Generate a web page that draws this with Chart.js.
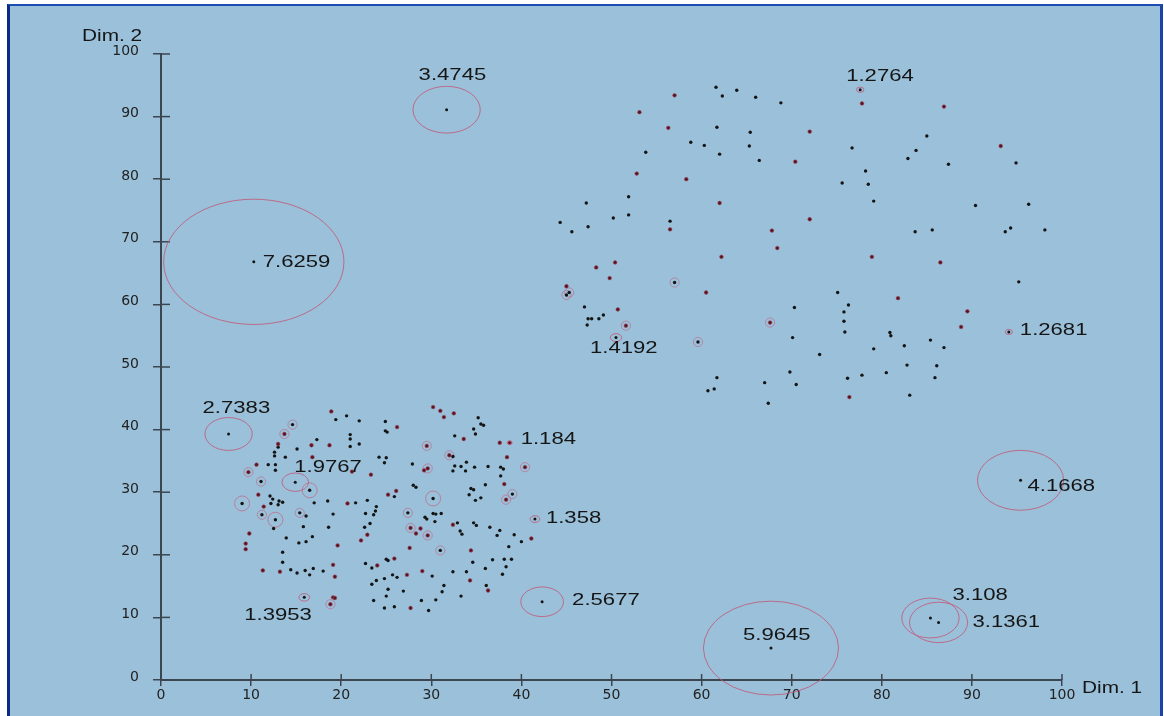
<!DOCTYPE html>
<html>
<head>
<meta charset="utf-8">
<script src="https://cdn.jsdelivr.net/npm/chart.js@4/dist/chart.umd.min.js"></script>
<style>
  body { margin: 0; background: #fff; }
  #frame {
    position: absolute; left: 7px; top: 4px; width: 1150px; height: 720px;
    background: #9bc1da;
    border-top: 2px solid #1d4db3; border-left: 3px solid #0b2a86; border-right: 3px solid #1a43a8;
  }
  #wrap { position: absolute; left: 0; top: 0; width: 1164px; height: 716px; }
</style>
</head>
<body>
<div id="frame"></div>
<div id="wrap"><canvas id="plot" width="1164" height="716"></canvas></div>
<script>
// pontos pretos (Dim. 1, Dim. 2)
const blackPts = [
  [19.4,41.6],[20.6,42.2],[22.0,41.4],[14.6,40.8],[21.0,39.2],[21.0,38.5],[17.3,38.4],[21.0,37.3],[22.0,37.7],
  [13.0,37.2],[15.1,36.9],[12.6,36.4],[12.6,35.8],[13.8,35.6],[11.9,34.4],[12.7,34.4],[12.7,33.5],[11.1,31.7],
  [16.5,30.3],[12.1,29.4],[12.4,28.9],[13.1,28.6],[13.5,28.4],[13.0,28.0],[12.2,28.2],[9.0,28.2],[17.0,28.3],
  [18.5,28.6],[21.6,28.3],[22.9,28.7],[11.2,26.4],[12.7,25.6],[15.4,26.7],[16.1,26.2],[19.1,26.5],[22.7,26.6],
  [12.5,24.2],[15.8,24.5],[18.6,24.4],[23.2,25.0],[22.6,24.4],[13.9,22.7],[16.8,22.9],[16.1,22.1],[15.3,21.9],
  [13.5,20.4],[13.5,18.8],[14.4,17.6],[15.1,17.1],[16.0,17.5],[16.9,17.8],[16.5,16.8],[18.0,17.4],[22.7,18.6],
  [23.4,17.9],[23.4,15.3],[23.6,12.7],
  [35.2,41.9],[35.5,40.9],[35.8,40.7],[34.7,40.1],[34.9,39.3],[24.9,41.3],[24.9,39.8],[25.1,39.6],[32.6,39.0],
  [32.4,35.7],[24.2,35.6],[25.0,35.5],[24.8,34.7],[27.9,34.5],[33.9,34.8],[32.6,34.2],[33.3,34.1],[34.8,34.0],
  [36.3,34.1],[37.7,34.0],[38.0,33.7],[32.4,33.4],[33.8,33.4],[37.7,32.6],[28.0,31.1],[28.3,30.8],[36.0,31.2],
  [25.9,29.3],[34.4,30.6],[34.7,30.4],[34.2,29.6],[30.2,29.0],[34.9,28.7],[35.5,29.1],[39.0,29.7],[23.9,27.7],
  [23.8,27.0],[23.6,26.4],[27.4,26.7],[29.3,26.0],[29.5,25.7],[30.2,26.6],[30.5,26.5],[31.1,26.6],[30.4,25.3],
  [32.9,25.1],[34.7,25.1],[35.0,24.7],[33.2,23.8],[33.4,23.3],[36.5,24.4],[37.6,23.9],[37.3,23.1],[39.2,23.2],
  [40.0,22.1],[31.0,20.7],[38.6,21.3],[25.0,19.3],[25.2,19.1],[34.6,18.8],[36.8,19.2],[38.1,19.3],[38.9,19.3],
  [38.3,18.1],[36.0,17.8],[32.4,17.3],[33.9,17.3],[30.1,16.6],[26.2,16.4],[25.7,16.8],[24.8,16.2],[23.9,15.9],
  [37.9,16.9],[31.4,15.1],[36.1,15.1],[25.2,14.5],[26.9,14.2],[31.2,14.1],[25.0,13.4],[28.9,12.7],[30.5,12.8],
  [33.3,13.4],[24.8,11.5],[25.9,11.7],[29.7,11.1],
  [61.6,94.7],[63.9,94.2],[62.3,93.3],[66.0,93.1],[68.8,92.2],[61.7,88.3],[65.4,87.5],[58.8,85.9],[60.3,85.4],
  [65.3,85.3],[62.0,84.0],[53.8,84.3],[66.4,83.0],[51.9,77.2],[47.2,76.2],[50.2,73.8],[51.9,74.3],[44.3,73.1],
  [45.6,71.6],[47.4,72.4],[56.5,73.3],
  [85.0,86.9],[76.7,85.0],[83.8,84.6],[82.9,83.3],[87.4,82.4],[94.9,82.6],[78.2,81.3],[75.6,79.4],[78.5,79.2],
  [79.1,76.5],[90.4,75.8],[96.3,76.0],[83.7,71.6],[85.6,71.9],[93.7,71.6],[94.3,72.2],[98.1,71.9],
  [45.3,61.9],[45.0,61.5],[57.0,63.5],[47.0,59.6],[47.4,57.7],[47.8,57.7],[48.6,57.7],[49.1,58.3],[47.3,56.7],
  [59.6,54.0],[70.3,59.5],[70.1,54.7],[69.8,49.2],[67.0,47.5],[70.5,47.2],[61.7,48.3],[61.4,46.5],[60.7,46.2],
  [67.4,44.2],
  [95.2,63.6],[75.1,61.9],[76.3,59.9],[75.8,58.8],[75.8,57.3],[75.9,55.6],[80.9,55.5],[81.0,55.0],[85.4,54.3],
  [82.5,53.4],[86.9,53.1],[79.1,52.9],[73.1,52.0],[82.8,50.3],[86.1,50.2],[80.5,49.1],[77.8,48.7],[76.2,48.2],
  [85.9,48.3],[83.1,45.5]
];

// pontos vermelhos
const redPts = [
  [18.9,42.9],[13.7,39.3],[16.7,37.5],[18.7,37.5],[13.0,37.7],[16.8,35.6],[10.6,34.4],[9.7,33.2],[21.2,33.3],
  [23.3,32.8],[10.8,29.6],[11.4,27.7],[20.7,28.2],[9.8,23.4],[22.9,23.2],[22.2,22.3],[19.6,21.5],[9.4,21.8],
  [9.4,20.9],[11.3,17.5],[13.2,17.3],[19.1,18.4],[19.3,16.5],[19.1,13.2],[19.3,13.1],[18.8,12.1],
  [30.2,43.6],[31.0,43.0],[31.4,42.0],[32.5,42.6],[26.2,40.4],[33.6,38.5],[29.5,37.4],[37.6,37.9],[38.7,37.9],
  [38.4,35.6],[32.0,35.9],[40.4,34.0],[29.6,33.8],[29.2,33.5],[38.1,31.3],[26.1,30.2],[25.2,29.6],[38.3,28.8],
  [32.4,24.8],[27.7,24.3],[28.8,24.2],[28.3,23.4],[29.6,23.1],[41.1,22.6],[27.6,21.1],[34.4,20.7],[25.9,19.4],
  [24.0,18.3],[29.0,17.4],[27.3,16.8],[34.3,15.9],[36.3,14.3],[27.7,11.5],
  [57.0,93.4],[53.1,90.7],[56.3,88.2],[70.4,82.8],[52.8,80.9],[58.3,80.0],[62.0,76.2],[56.5,72.0],[67.8,71.8],
  [68.4,69.0],[77.8,92.1],[86.9,91.6],[72.0,87.6],[93.2,85.3],[72.0,73.6],[62.2,67.6],[50.4,66.7],[48.3,65.9],
  [49.8,64.2],[45.0,62.9],[60.5,61.9],[50.7,59.2],[51.6,56.6],[67.6,57.1],[78.9,67.6],[86.5,66.7],[81.8,61.0],
  [89.5,58.9],[88.8,56.4],[76.4,45.2]
];

// pontos com pequeno círculo rosa
const ringPts = [
  [14.6,40.8],[13.7,39.3],[9.7,33.2],[11.1,31.7],[11.2,26.4],[15.4,26.7],[18.8,12.1],[29.5,37.4],[32.0,35.9],
  [40.4,34.0],[29.6,33.8],[39.0,29.7],[38.3,28.8],[27.4,26.7],[27.7,24.3],[29.6,23.1],[31.0,20.7],
  [45.3,61.9],[45.0,61.5],[57.0,63.5],[51.6,56.6],[59.6,54.0],[67.6,57.1]
];
const bigRingPts = [[16.5,30.3],[9.0,28.2],[12.7,25.6],[30.2,29.0]];

// pontos rotulados (valor = tamanho do círculo)
const labelVal = [3.4745, 7.6259, 2.7383, 1.9767, 1.184, 1.358, 1.3953, 2.5677, 5.9645, 4.1668, 3.108, 3.1361, 1.2764, 1.2681, 1.4192];
const labelX   = [31.7, 10.3, 7.5, 14.9, 38.7, 41.5, 15.9, 42.3, 67.7, 95.4, 85.4, 86.3, 77.6, 94.1, 50.5];
const labelY   = [91.1, 66.8, 39.3, 31.6, 37.9, 25.7, 13.2, 12.5, 5.1, 31.9, 9.9, 9.2, 94.3, 55.6, 54.7];

const axisTicks = [0, 10, 20, 30, 40, 50, 60, 70, 80, 90, 100];

const axisColor = '#3b4650';
const toXY = pts => pts.map(p => ({x: p[0], y: p[1]}));

// deslocamento do texto de cada rótulo (px)
const labelShift = [[-28,-34],[9,0],[-26,-26],[-1,-15],[11,-3],[11,-1],[-60,18],[30,-1],[-28,-13],[7,6],[22,-23],[34,0],[-14,-13],[11,-2],[-26,11]];

function wideText(ctx, txt, x, y, size) {
  ctx.save();
  ctx.translate(x, y);
  ctx.scale(1.3, 1);
  ctx.font = size + 'px "Liberation Sans", Arial, sans-serif';
  ctx.fillStyle = '#151515';
  ctx.textAlign = 'left';
  ctx.textBaseline = 'middle';
  ctx.fillText(txt, 0, 0);
  ctx.restore();
}

const annotations = {
  id: 'annotations',
  afterDatasetsDraw(chart) {
    const ctx = chart.ctx;
    const xs = chart.scales.x, ys = chart.scales.y;
    ctx.save();
    // meia-marca interna dos ticks
    ctx.strokeStyle = axisColor;
    ctx.lineWidth = 1.5;
    xs.ticks.forEach(t => {
      const px = xs.getPixelForValue(t.value);
      ctx.beginPath(); ctx.moveTo(px, ys.bottom); ctx.lineTo(px, ys.bottom - 6); ctx.stroke();
    });
    ys.ticks.forEach(t => {
      const py = ys.getPixelForValue(t.value);
      ctx.beginPath(); ctx.moveTo(xs.left, py); ctx.lineTo(xs.left + 9, py); ctx.stroke();
    });
    // círculos proporcionais ao valor
    ctx.strokeStyle = 'rgba(192,92,122,0.85)';
    ctx.lineWidth = 1;
    labelVal.forEach((v, i) => {
      const r = (v - 1) * 1.51;
      const cx = xs.getPixelForValue(labelX[i]);
      const cy = ys.getPixelForValue(labelY[i]);
      const rx = xs.getPixelForValue(labelX[i] + r) - cx;
      const ry = cy - ys.getPixelForValue(labelY[i] + r);
      ctx.beginPath();
      ctx.ellipse(cx, cy, rx, ry, 0, 0, Math.PI * 2);
      ctx.stroke();
      wideText(ctx, String(v), cx + labelShift[i][0], cy + labelShift[i][1], 17);
    });
    // títulos dos eixos
    wideText(ctx, 'Dim. 2', xs.left - 79, ys.top - 17, 16);
    wideText(ctx, 'Dim. 1', xs.right + 20, ys.bottom + 9, 16);
    ctx.restore();
  }
};

const tickFont = {family: 'DejaVu Sans', size: 14};

new Chart(document.getElementById('plot'), {
  type: 'scatter',
  data: {
    datasets: [
      {data: toXY(redPts), pointRadius: 1.9, pointBackgroundColor: '#5a1420',
       pointBorderColor: 'rgba(165,85,110,0.55)', pointBorderWidth: 1, order: 0},
      {data: toXY(blackPts), pointRadius: 1.7, pointBackgroundColor: '#141414',
       pointBorderWidth: 0, order: 1},
      {data: labelX.map((x, i) => ({x: x, y: labelY[i]})), pointRadius: 1.5,
       pointBackgroundColor: '#141414', pointBorderWidth: 0, order: 2},
      {data: toXY(ringPts), pointRadius: 4.6, pointBackgroundColor: 'rgba(0,0,0,0)',
       pointBorderColor: 'rgba(190,105,135,0.65)', pointBorderWidth: 1, order: 3},
      {data: toXY(bigRingPts), pointRadius: 7.5, pointBackgroundColor: 'rgba(0,0,0,0)',
       pointBorderColor: 'rgba(190,105,135,0.75)', pointBorderWidth: 1, order: 4}
    ]
  },
  options: {
    responsive: false,
    animation: false,
    devicePixelRatio: 1,
    events: [],
    layout: {padding: {top: 54, right: 102, bottom: 0, left: 0}},
    plugins: {legend: {display: false}, tooltip: {enabled: false}},
    scales: {
      x: {
        type: 'linear', min: 0, max: 100,
        afterBuildTicks: s => { s.ticks = axisTicks.map(v => ({value: v})); },
        ticks: {font: tickFont, color: '#222', padding: 1, maxRotation: 0},
        grid: {drawOnChartArea: false, tickLength: 6, color: axisColor, lineWidth: 1.5},
        border: {color: axisColor, width: 2},
        afterFit: s => { s.height = 36; }
      },
      y: {
        type: 'linear', min: 0, max: 100,
        afterBuildTicks: s => { s.ticks = axisTicks.map(v => ({value: v})); },
        ticks: {font: tickFont, color: '#222', padding: 14, labelOffset: -3},
        grid: {drawOnChartArea: false, tickLength: 8, color: axisColor, lineWidth: 1.5},
        border: {color: axisColor, width: 2},
        afterFit: s => { s.width = 161; }
      }
    }
  },
  plugins: [annotations]
});
</script>
</body>
</html>
